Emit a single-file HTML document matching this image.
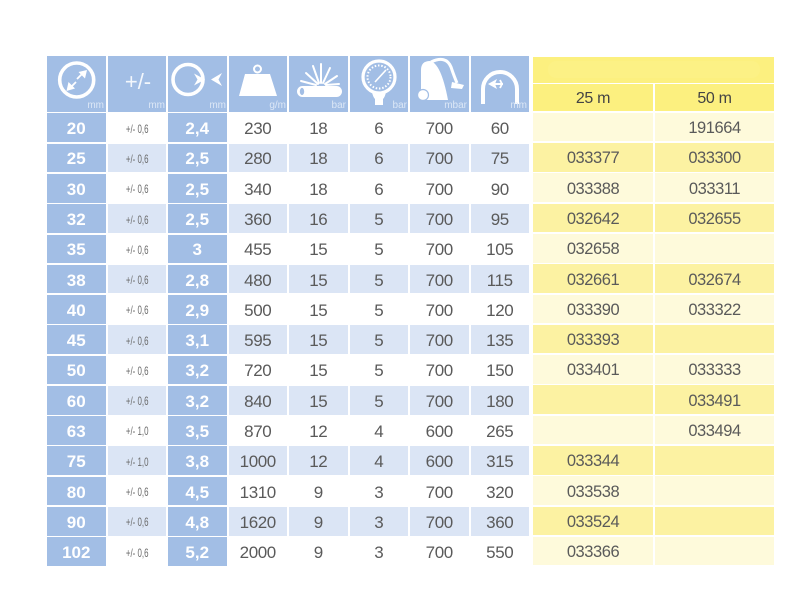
<!DOCTYPE html>
<html>
<head>
<meta charset="utf-8">
<style>
  html,body{margin:0;padding:0;background:#fff;}
  body{width:800px;height:591px;position:relative;overflow:hidden;font-family:"Liberation Sans",sans-serif;}
  .blue{position:absolute;left:47px;top:56px;display:grid;
    grid-template-columns:repeat(8,58.5px);column-gap:2px;
    grid-template-rows:55.7px repeat(15,28.6px);row-gap:1.7px;}
  .yel{position:absolute;left:533px;top:57px;display:grid;
    grid-template-columns:120px 119px;column-gap:2px;
    grid-template-rows:25.5px 27px repeat(15,28.6px);row-gap:1.7px;}
  .blue div,.yel div{display:flex;align-items:center;justify-content:center;white-space:nowrap;box-sizing:border-box;}
  .h{background:#a2bee5;}
  .k{background:#a2bee5;color:#fff;font-weight:bold;font-size:17px;padding-top:3px;}
  .d{color:#5a5a5a;font-size:17px;letter-spacing:-0.4px;padding-top:3px;}
  .t{color:#6a6a6a;font-size:12px;padding-top:2px;}
  .t span{display:inline-block;transform:scaleX(0.66);}
  .w{background:#ffffff;}
  .l{background:#dbe5f5;}
  .yh{background:#fcf07f;}
  .yt{grid-column:1 / span 2;}
  .yc{color:#444;font-size:16px;letter-spacing:-0.3px;padding-top:2px;}
  .yw{background:#fefadb;}
  .yl{background:#fcf2a2;}
  .y{color:#5a5a5a;font-size:16.5px;letter-spacing:-0.45px;padding-top:3px;}
  svg{position:absolute;left:0;top:0;}
  .u{font-family:"Liberation Sans",sans-serif;font-size:10px;fill:#dce7f6;}
</style>
</head>
<body>
<div class="blue">
  <div class="h"></div><div class="h"></div><div class="h"></div><div class="h"></div><div class="h"></div><div class="h"></div><div class="h"></div><div class="h"></div>

  <div class="k">20</div><div class="t w"><span>+/- 0,6</span></div><div class="k">2,4</div><div class="d w">230</div><div class="d w">18</div><div class="d w">6</div><div class="d w">700</div><div class="d w">60</div>
  <div class="k">25</div><div class="t l"><span>+/- 0,6</span></div><div class="k">2,5</div><div class="d l">280</div><div class="d l">18</div><div class="d l">6</div><div class="d l">700</div><div class="d l">75</div>
  <div class="k">30</div><div class="t w"><span>+/- 0,6</span></div><div class="k">2,5</div><div class="d w">340</div><div class="d w">18</div><div class="d w">6</div><div class="d w">700</div><div class="d w">90</div>
  <div class="k">32</div><div class="t l"><span>+/- 0,6</span></div><div class="k">2,5</div><div class="d l">360</div><div class="d l">16</div><div class="d l">5</div><div class="d l">700</div><div class="d l">95</div>
  <div class="k">35</div><div class="t w"><span>+/- 0,6</span></div><div class="k">3</div><div class="d w">455</div><div class="d w">15</div><div class="d w">5</div><div class="d w">700</div><div class="d w">105</div>
  <div class="k">38</div><div class="t l"><span>+/- 0,6</span></div><div class="k">2,8</div><div class="d l">480</div><div class="d l">15</div><div class="d l">5</div><div class="d l">700</div><div class="d l">115</div>
  <div class="k">40</div><div class="t w"><span>+/- 0,6</span></div><div class="k">2,9</div><div class="d w">500</div><div class="d w">15</div><div class="d w">5</div><div class="d w">700</div><div class="d w">120</div>
  <div class="k">45</div><div class="t l"><span>+/- 0,6</span></div><div class="k">3,1</div><div class="d l">595</div><div class="d l">15</div><div class="d l">5</div><div class="d l">700</div><div class="d l">135</div>
  <div class="k">50</div><div class="t w"><span>+/- 0,6</span></div><div class="k">3,2</div><div class="d w">720</div><div class="d w">15</div><div class="d w">5</div><div class="d w">700</div><div class="d w">150</div>
  <div class="k">60</div><div class="t l"><span>+/- 0,6</span></div><div class="k">3,2</div><div class="d l">840</div><div class="d l">15</div><div class="d l">5</div><div class="d l">700</div><div class="d l">180</div>
  <div class="k">63</div><div class="t w"><span>+/- 1,0</span></div><div class="k">3,5</div><div class="d w">870</div><div class="d w">12</div><div class="d w">4</div><div class="d w">600</div><div class="d w">265</div>
  <div class="k">75</div><div class="t l"><span>+/- 1,0</span></div><div class="k">3,8</div><div class="d l">1000</div><div class="d l">12</div><div class="d l">4</div><div class="d l">600</div><div class="d l">315</div>
  <div class="k">80</div><div class="t w"><span>+/- 0,6</span></div><div class="k">4,5</div><div class="d w">1310</div><div class="d w">9</div><div class="d w">3</div><div class="d w">700</div><div class="d w">320</div>
  <div class="k">90</div><div class="t l"><span>+/- 0,6</span></div><div class="k">4,8</div><div class="d l">1620</div><div class="d l">9</div><div class="d l">3</div><div class="d l">700</div><div class="d l">360</div>
  <div class="k">102</div><div class="t w"><span>+/- 0,6</span></div><div class="k">5,2</div><div class="d w">2000</div><div class="d w">9</div><div class="d w">3</div><div class="d w">700</div><div class="d w">550</div>
</div>

<div class="yel">
  <div class="yh yt"></div>
  <div class="yh yc">25 m</div><div class="yh yc">50 m</div>
  <div class="y yw"></div><div class="y yw">191664</div>
  <div class="y yl">033377</div><div class="y yl">033300</div>
  <div class="y yw">033388</div><div class="y yw">033311</div>
  <div class="y yl">032642</div><div class="y yl">032655</div>
  <div class="y yw">032658</div><div class="y yw"></div>
  <div class="y yl">032661</div><div class="y yl">032674</div>
  <div class="y yw">033390</div><div class="y yw">033322</div>
  <div class="y yl">033393</div><div class="y yl"></div>
  <div class="y yw">033401</div><div class="y yw">033333</div>
  <div class="y yl"></div><div class="y yl">033491</div>
  <div class="y yw"></div><div class="y yw">033494</div>
  <div class="y yl">033344</div><div class="y yl"></div>
  <div class="y yw">033538</div><div class="y yw"></div>
  <div class="y yl">033524</div><div class="y yl"></div>
  <div class="y yw">033366</div><div class="y yw"></div>
</div>

<svg width="800" height="591" viewBox="0 0 800 591">
  <!-- subtle inner highlight in yellow top band -->
  <rect x="548" y="61" width="212" height="17" rx="8" fill="#fcf185"/>

  <!-- icon 1: diameter -->
  <circle cx="76.7" cy="80" r="17" fill="none" stroke="#fff" stroke-width="3.6"/>
  <line x1="77" y1="79" x2="82" y2="74" stroke="#fff" stroke-width="1.8"/>
  <polygon points="87,70 78.5,72 85,78.5" fill="#fff"/>
  <line x1="76" y1="82" x2="71" y2="87" stroke="#fff" stroke-width="1.8"/>
  <polygon points="66.5,91 75,88.5 68.5,82" fill="#fff"/>

  <!-- icon 2: +/- -->
  <text x="138" y="89" text-anchor="middle" font-family="Liberation Sans, sans-serif" font-size="22" fill="#f3f7fc">+/-</text>

  <!-- icon 3: wall thickness -->
  <circle cx="188" cy="79.5" r="15" fill="none" stroke="#fff" stroke-width="3.6"/>
  <polygon points="194,73.5 205,79.5 194,85.5 197.5,79.5" fill="#fff"/>
  <polygon points="222,73 211,79.5 222,86 218.5,79.5" fill="#fff"/>

  <!-- icon 4: weight -->
  <circle cx="257.5" cy="69" r="3.5" fill="none" stroke="#fff" stroke-width="2"/>
  <polygon points="245,74 270,74 277,96 239,96" fill="#fff"/>

  <!-- icon 5: burst pipe -->
  <rect x="297" y="86" width="45" height="11" rx="5.5" fill="#fff"/>
  <ellipse cx="302" cy="91.5" rx="2.2" ry="3.6" fill="#a2bee5"/>
  <g stroke="#fff" stroke-width="2" stroke-linecap="round">
    <line x1="318" y1="84" x2="306" y2="73"/>
    <line x1="319" y1="83" x2="313" y2="66"/>
    <line x1="321" y1="83" x2="321" y2="64"/>
    <line x1="323" y1="83" x2="330" y2="68"/>
    <line x1="325" y1="84" x2="337" y2="76"/>
    <line x1="316" y1="85" x2="301" y2="81"/>
    <line x1="326" y1="85" x2="339" y2="84"/>
  </g>

  <!-- icon 6: gauge -->
  <circle cx="379" cy="77" r="16" fill="none" stroke="#fff" stroke-width="3.2"/>
  <circle cx="379" cy="77" r="11.5" fill="none" stroke="#fff" stroke-width="2" stroke-dasharray="1.5 1.8"/>
  <line x1="375" y1="82" x2="386" y2="70" stroke="#fff" stroke-width="1.6"/>
  <path d="M372 92 Q373 97 375 99 L375 105 L383 105 L383 99 Q385 97 386 92 Z" fill="#fff"/>

  <!-- icon 7: vacuum -->
  <path d="M421 100 L421 70 Q421 61 430 61 Q441 63 448 100 Z" fill="#fff"/>
  <path d="M431 62 Q446 55 451 67 Q454 76 457 83" fill="none" stroke="#fff" stroke-width="3"/>
  <polygon points="452,82 464,85 462,89 451,88" fill="#fff"/>
  <circle cx="423" cy="95" r="5.5" fill="#fff" stroke="#a2bee5" stroke-width="1.2"/>

  <!-- icon 8: bend radius -->
  <path d="M483 104 L483 89 A17 17 0 0 1 517 89 L517 104" fill="none" stroke="#fff" stroke-width="4"/>
  <polygon points="488,84 497,79 495,84 497,89" fill="#fff"/>
  <line x1="494" y1="84" x2="503" y2="84" stroke="#fff" stroke-width="2"/>
  <line x1="500" y1="80" x2="502" y2="84" stroke="#fff" stroke-width="1.8"/>
  <line x1="500" y1="88" x2="502" y2="84" stroke="#fff" stroke-width="1.8"/>

  <!-- unit labels -->
  <g class="u" text-anchor="end">
    <text x="104" y="108" class="u">mm</text>
    <text x="165" y="108" class="u">mm</text>
    <text x="226" y="108" class="u">mm</text>
    <text x="286" y="108" class="u">g/m</text>
    <text x="346" y="108" class="u">bar</text>
    <text x="407" y="108" class="u">bar</text>
    <text x="467" y="108" class="u">mbar</text>
    <text x="527" y="108" class="u">mm</text>
  </g>
</svg>
</body>
</html>
